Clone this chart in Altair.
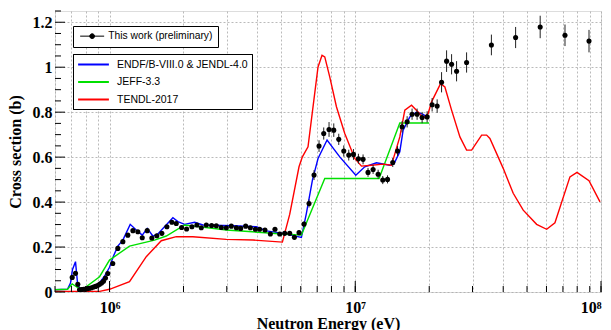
import altair as alt
import pandas as pd

# ---------------- data ----------------
exp_energy = [7.05e5, 7.27e5, 7.43e5, 7.55e5, 7.69e5, 7.84e5, 7.99e5, 8.14e5, 8.29e5, 8.45e5,
              8.61e5, 8.77e5, 8.94e5, 9.11e5, 9.28e5, 9.45e5, 9.63e5, 9.84e5, 1.031e6, 1.081e6,
              1.133e6, 1.187e6, 1.245e6, 1.304e6, 1.359e6, 1.424e6, 1.487e6, 1.558e6, 1.633e6, 1.712e6,
              1.794e6, 1.869e6, 1.965e6, 2.059e6, 2.164e6, 2.268e6, 2.363e6, 2.477e6, 2.603e6, 2.720e6,
              2.851e6, 2.988e6, 3.131e6, 3.282e6, 3.417e6, 3.581e6, 3.742e6, 3.922e6, 4.083e6, 4.291e6,
              4.514e6, 4.713e6, 4.926e6, 5.162e6, 5.410e6, 5.654e6, 5.904e6, 6.187e6, 6.484e6, 6.796e6,
              7.122e6, 7.442e6, 7.822e6, 8.176e6, 8.568e6, 8.980e6, 9.409e6, 9.833e6, 1.030e7, 1.076e7,
              1.127e7, 1.182e7, 1.239e7, 1.294e7, 1.353e7, 1.421e7, 1.486e7, 1.551e7, 1.626e7, 1.703e7,
              1.785e7, 1.871e7, 1.961e7, 2.055e7, 2.154e7, 2.245e7, 2.353e7, 2.466e7, 2.584e7, 2.838e7,
              3.581e7, 4.493e7, 5.656e7, 7.136e7, 8.937e7]
exp_xs = [0.065, 0.083, 0.034, 0.010, 0.011, 0.012, 0.013, 0.015, 0.017, 0.019,
          0.022, 0.025, 0.029, 0.034, 0.040, 0.048, 0.062, 0.082, 0.127, 0.194,
          0.224, 0.253, 0.273, 0.268, 0.241, 0.273, 0.240, 0.250, 0.261, 0.290,
          0.310, 0.305, 0.287, 0.280, 0.290, 0.298, 0.286, 0.298, 0.296, 0.295,
          0.287, 0.286, 0.293, 0.286, 0.283, 0.293, 0.286, 0.279, 0.279, 0.276,
          0.258, 0.279, 0.258, 0.261, 0.261, 0.243, 0.264, 0.302, 0.394, 0.520,
          0.649, 0.705, 0.723, 0.720, 0.679, 0.627, 0.609, 0.612, 0.593, 0.590,
          0.532, 0.545, 0.524, 0.498, 0.501, 0.576, 0.627, 0.735, 0.757, 0.791,
          0.791, 0.776, 0.779, 0.833, 0.827, 0.933, 1.027, 1.013, 0.982, 1.021,
          1.099, 1.132, 1.179, 1.142, 1.116]
exp_err = [0.006, 0.006, 0.004, 0.003, 0.003, 0.003, 0.003, 0.003, 0.003, 0.003,
           0.003, 0.003, 0.003, 0.003, 0.003, 0.003, 0.004, 0.004, 0.005, 0.006,
           0.006, 0.006, 0.006, 0.006, 0.006, 0.006, 0.006, 0.006, 0.006, 0.006,
           0.006, 0.006, 0.006, 0.006, 0.006, 0.006, 0.006, 0.006, 0.006, 0.006,
           0.006, 0.006, 0.006, 0.006, 0.006, 0.006, 0.006, 0.006, 0.006, 0.006,
           0.006, 0.006, 0.006, 0.006, 0.006, 0.008, 0.010, 0.012, 0.018, 0.022,
           0.026, 0.027, 0.033, 0.030, 0.025, 0.025, 0.024, 0.024, 0.022, 0.022,
           0.020, 0.020, 0.020, 0.018, 0.018, 0.020, 0.022, 0.025, 0.025, 0.025,
           0.025, 0.025, 0.025, 0.030, 0.030, 0.045, 0.048, 0.045, 0.045, 0.045,
           0.046, 0.047, 0.050, 0.048, 0.050]

endf_energy = [6.0e5, 6.745e5, 6.937e5, 7.07e5, 7.27e5, 7.41e5, 7.55e5, 7.76e5, 8.14e5, 8.61e5,
               9.11e5, 9.54e5, 1.0e6, 1.038e6, 1.081e6, 1.133e6, 1.214e6, 1.285e6, 1.359e6, 1.424e6,
               1.501e6, 1.573e6, 1.811e6, 1.898e6, 2.021e6, 2.220e6, 2.399e6, 3.178e6, 3.960e6, 4.348e6,
               5.080e6, 6.037e6, 6.326e6, 6.694e6, 7.055e6, 7.678e6, 8.648e6, 1.005e7, 1.093e7, 1.220e7,
               1.382e7, 1.435e7, 1.518e7, 1.566e7, 1.667e7, 1.775e7, 1.889e7, 1.956e7]
endf_xs = [0.010, 0.012, 0.040, 0.100, 0.135, 0.040, 0.018, 0.008, 0.012, 0.022,
           0.042, 0.070, 0.110, 0.160, 0.204, 0.231, 0.301, 0.276, 0.253, 0.283,
           0.249, 0.258, 0.330, 0.313, 0.301, 0.310, 0.298, 0.295, 0.290, 0.272,
           0.261, 0.243, 0.350, 0.498, 0.594, 0.676, 0.601, 0.519, 0.557, 0.575,
           0.564, 0.569, 0.624, 0.720, 0.779, 0.801, 0.790, 0.779]

jeff_energy = [6.0e5, 6.745e5, 7.05e5, 7.43e5, 7.785e5, 9.11e5, 1.0e6, 1.206e6, 1.525e6, 1.702e6,
               2.021e6, 2.326e6, 2.988e6, 5.080e6, 6.037e6, 7.515e6, 1.250e7, 1.518e7, 1.998e7]
jeff_xs = [0.010, 0.012, 0.036, 0.019, 0.012, 0.068, 0.142, 0.204, 0.231, 0.249,
           0.298, 0.290, 0.276, 0.258, 0.253, 0.505, 0.505, 0.752, 0.752]

tendl_energy = [6.0e5, 9.11e5, 1.0e6, 1.206e6, 1.411e6, 1.624e6, 1.869e6, 2.183e6, 2.988e6, 3.835e6,
                5.052e6, 5.410e6, 5.904e6, 6.093e6, 6.423e6, 7.055e6, 7.324e6, 7.515e6, 7.873e6, 8.383e6,
                9.063e6, 9.953e6, 1.060e7, 1.164e7, 1.298e7, 1.404e7, 1.518e7, 1.591e7, 1.694e7, 1.802e7,
                1.889e7, 1.980e7, 2.044e7, 2.224e7, 2.316e7, 2.466e7, 2.666e7, 2.838e7, 2.975e7, 3.268e7,
                3.424e7, 3.531e7, 4.000e7, 4.393e7, 4.825e7, 5.471e7, 6.010e7, 6.495e7, 7.475e7, 7.985e7,
                8.937e7, 9.906e7]
tendl_xs = [0.002, 0.003, 0.012, 0.046, 0.157, 0.228, 0.246, 0.246, 0.234, 0.231,
            0.222, 0.345, 0.557, 0.601, 0.646, 1.001, 1.053, 1.046, 0.957, 0.824,
            0.705, 0.594, 0.560, 0.564, 0.569, 0.564, 0.690, 0.809, 0.831, 0.801,
            0.772, 0.794, 0.846, 0.927, 0.912, 0.809, 0.690, 0.631, 0.631, 0.698,
            0.698, 0.683, 0.550, 0.439, 0.364, 0.301, 0.279, 0.308, 0.512, 0.532,
            0.495, 0.401]

model_names = ["ENDF/B-VIII.0 & JENDL-4.0", "JEFF-3.3", "TENDL-2017"]
model_colors = ["#0000ff", "#00e000", "#ff0000"]
exp_name = "This work (preliminary)"

x_grid_values = [6e5, 7e5, 8e5, 9e5,
                 1e6, 2e6, 3e6, 4e6, 5e6, 6e6, 7e6, 8e6, 9e6,
                 1e7, 2e7, 3e7, 4e7, 5e7, 6e7, 7e7, 8e7, 9e7, 1e8]
x_major_ticks = [1e6, 1e7, 1e8]
y_values = [0, 0.2, 0.4, 0.6, 0.8, 1.0, 1.2]
y_minor_ticks = [0.05, 0.1, 0.15, 0.25, 0.3, 0.35, 0.45, 0.5, 0.55, 0.65, 0.7, 0.75,
                 0.85, 0.9, 0.95, 1.05, 1.1, 1.15, 1.25]

# ---------------- tables ----------------
exp_df = pd.DataFrame({"E": exp_energy, "xs": exp_xs, "err": exp_err})
exp_df["lo"] = exp_df["xs"] - exp_df["err"]
exp_df["hi"] = exp_df["xs"] + exp_df["err"]
exp_df["series"] = exp_name

def model_df(e, y, name):
    return pd.DataFrame({"E": e, "xs": y, "model": name})

serif = "Liberation Serif"
sans = "Liberation Sans"
PLOT_W, PLOT_H = 546, 281

xscale = alt.Scale(type="log", domain=[6e5, 1e8], nice=False)
yscale = alt.Scale(domain=[0, 1.25], nice=False, zero=False)

xaxis = alt.Axis(values=x_grid_values,
                 labelExpr="datum.value == 1000000 ? '10⁶' : datum.value == 10000000 ? '10⁷' : datum.value == 100000000 ? '10⁸' : ''",
                 title="Neutron Energy (eV)", ticks=False, domain=False,
                 labelFont=serif, labelFontWeight="bold", labelFontSize=16, labelColor="black",
                 labelPadding=7, labelOverlap=False,
                 titleFont=serif, titleFontWeight="bold", titleFontSize=16, titleColor="black",
                 titlePadding=0,
                 grid=True, gridColor="#a8a8a8", gridDash=[2, 2], gridWidth=0.8)
yaxis = alt.Axis(values=y_values, format="~g",
                 title="Cross section (b)", ticks=False, domain=False,
                 labelFont=serif, labelFontWeight="bold", labelFontSize=16, labelColor="black",
                 labelPadding=3,
                 titleFont=serif, titleFontWeight="bold", titleFontSize=16, titleColor="black",
                 titlePadding=9,
                 grid=True, gridColor="#a8a8a8", gridDash=[2, 2], gridWidth=0.8)

color_scale = alt.Scale(domain=model_names, range=model_colors)
color_legend = alt.Legend(title=None, orient="none", legendX=18, legendY=43,
                          symbolType="M-2.8,0H2.8", symbolSize=121, symbolStrokeWidth=2,
                          symbolOffset=10,
                          labelFont=sans, labelFontSize=10.5, labelColor="black",
                          labelOffset=17, rowPadding=5.5, padding=4,
                          strokeColor="black", fillColor="white")

line_layers = []
for e, y, name in [(endf_energy, endf_xs, model_names[0]),
                   (jeff_energy, jeff_xs, model_names[1]),
                   (tendl_energy, tendl_xs, model_names[2])]:
    line_layers.append(
        alt.Chart(model_df(e, y, name)).mark_line(strokeWidth=1.4, clip=True).encode(
            x=alt.X("E:Q", scale=xscale, axis=xaxis),
            y=alt.Y("xs:Q", scale=yscale, axis=yaxis),
            color=alt.Color("model:N", scale=color_scale, legend=color_legend),
        )
    )

err_layer = alt.Chart(exp_df).mark_rule(color="#222222", strokeWidth=1, clip=True).encode(
    x=alt.X("E:Q", scale=xscale),
    y=alt.Y("lo:Q", scale=yscale),
    y2="hi:Q",
)

exp_symbol = "M-4,0H4M0.8,0A0.8,0.8,0,1,1,-0.8,0A0.8,0.8,0,1,1,0.8,0Z"
pt_layer = alt.Chart(exp_df).mark_point(filled=True, size=26, opacity=1, clip=True).encode(
    x=alt.X("E:Q", scale=xscale),
    y=alt.Y("xs:Q", scale=yscale),
    fill=alt.Fill("series:N", scale=alt.Scale(domain=[exp_name], range=["black"]),
                  legend=alt.Legend(title=None, orient="none", legendX=18, legendY=15,
                                    symbolType=exp_symbol, symbolSize=36, symbolOffset=9,
                                    symbolFillColor="black", symbolStrokeColor="black",
                                    symbolStrokeWidth=1,
                                    labelFont=sans, labelFontSize=10.3, labelColor="black",
                                    labelOffset=11, padding=5,
                                    strokeColor="black", fillColor="white")),
)

# inner tick marks (ROOT style) along the left and bottom edges
ytick_major = alt.Chart(pd.DataFrame({"v": y_values})).mark_rule(color="black", strokeWidth=1).encode(
    y=alt.Y("v:Q", scale=yscale), x=alt.value(0), x2=alt.value(10))
ytick_minor = alt.Chart(pd.DataFrame({"v": y_minor_ticks})).mark_rule(color="black", strokeWidth=1).encode(
    y=alt.Y("v:Q", scale=yscale), x=alt.value(0), x2=alt.value(6))
xtick_minor = alt.Chart(pd.DataFrame({"v": x_grid_values})).mark_rule(color="black", strokeWidth=1).encode(
    x=alt.X("v:Q", scale=xscale), y=alt.value(PLOT_H), y2=alt.value(PLOT_H - 6))
xtick_major = alt.Chart(pd.DataFrame({"v": x_major_ticks})).mark_rule(color="black", strokeWidth=1).encode(
    x=alt.X("v:Q", scale=xscale), y=alt.value(PLOT_H), y2=alt.value(PLOT_H - 11))

chart = alt.layer(*line_layers, err_layer, pt_layer,
                  ytick_major, ytick_minor, xtick_minor, xtick_major).resolve_legend(
    color="independent", fill="independent"
).properties(
    width=PLOT_W, height=PLOT_H,
    autosize=alt.AutoSizeParams(type="none"),
    padding={"left": 47, "top": 3, "right": 2, "bottom": 40},
).configure_view(
    stroke="black", strokeWidth=2, fill="white"
).configure(background="white")

chart.save("out.html", embed_options={"renderer": "svg", "actions": False})
